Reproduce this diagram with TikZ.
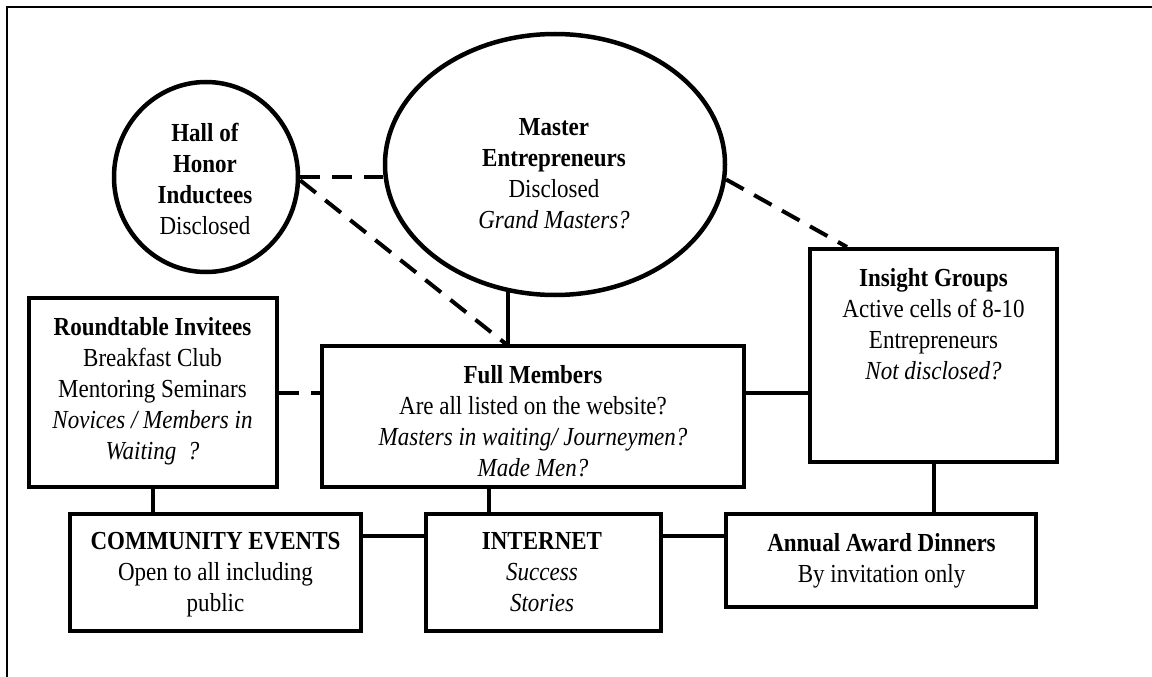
\documentclass[tikz,border=0pt]{standalone}
\usepackage{fontspec}
\setmainfont[FakeStretch=0.885]{Liberation Serif}
\usetikzlibrary{shapes.geometric}
\begin{document}
\begin{tikzpicture}[x=1pt,y=-1pt,
  box/.style={draw, rectangle, line width=4pt, inner sep=0pt},
  oval/.style={draw, ellipse, line width=4.5pt, inner sep=0pt},
  txt/.style={align=center, inner sep=0pt, anchor=north, font=\fontsize{26}{31}\selectfont},
  link/.style={line width=4pt},
  dlink/.style={line width=4pt, dash pattern=on 20pt off 12pt}]
\useasboundingbox (0,0) rectangle (1152,677);
\draw[line width=2pt] (7,690) -- (7,7) -- (1160,7);
% shapes
\node[oval, minimum width=184, minimum height=190] (hall) at (206,177) {};
\node[oval, minimum width=340, minimum height=261] (master) at (555,164.5) {};
\node[box, minimum width=248, minimum height=189] (rt) at (153,392.5) {};
\node[box, minimum width=422, minimum height=141] (full) at (533,416.5) {};
\node[box, minimum width=247, minimum height=213] (ins) at (933.5,355.5) {};
\node[box, minimum width=291, minimum height=117] (ce) at (215.5,572.5) {};
\node[box, minimum width=235, minimum height=117] (net) at (543.5,572.5) {};
\node[box, minimum width=310, minimum height=93] (aw) at (881,560.5) {};
% texts
\node[txt] (hallt) at (205,123) {\textbf{Hall of}\\\textbf{Honor}\\\textbf{Inductees}\\Disclosed};
\node[txt] (mastert) at (554,118) {\textbf{Master}\\\textbf{Entrepreneurs}\\Disclosed\\\textit{Grand Masters?}};
\node[txt] (inst) at (933.5,268) {\textbf{Insight Groups}\\Active cells of 8-10\\Entrepreneurs\\\textit{Not disclosed?}};
\node[txt] (rtt) at (152.5,317) {\textbf{Roundtable Invitees}\\Breakfast Club\\Mentoring Seminars\\\textit{Novices / Members in}\\\textit{Waiting\ \ ?}};
\node[txt] (fullt) at (533,365) {\textbf{Full Members}\\Are all listed on the website?\\\textit{Masters in waiting/ Journeymen?}\\\textit{Made Men?}};
\node[txt] (cet) at (215.5,532) {\textbf{COMMUNITY EVENTS}\\Open to all including\\public};
\node[txt] (nett) at (542,532) {\textbf{INTERNET}\\\textit{Success}\\\textit{Stories}};
\node[txt] (awt) at (881.5,533) {\textbf{Annual Award Dinners}\\By invitation only};
% connectors
\coordinate (hm) at ([xshift=186pt]full.north west);
\coordinate (mi) at ([xshift=39pt]ins.north west);
\coordinate (fi) at ([xshift=-44pt]full.south);
\coordinate (c1) at ([yshift=36.5pt]ce.east);
\draw[dlink] (hall.east) -- (hall.east -| master.west);
\draw[dlink] (hall.-2) -- (hm);
\draw[dlink] (master.-5) -- (mi);
\draw[link] (master.250) -- (master.250 |- full.north);
\draw[dlink] (rt.east) -- (rt.east -| full.west);
\draw[link] (full.east |- rt.east) -- (rt.east -| ins.west);
\draw[link] (rt.south) -- (rt.south |- ce.north);
\draw[link] (fi) -- (fi |- net.north);
\draw[link] (c1) -- (c1 -| net.west);
\draw[link] (c1 -| net.east) -- (c1 -| aw.west);
\draw[link] (ins.south) -- (ins.south |- aw.north);
\end{tikzpicture}
\end{document}
